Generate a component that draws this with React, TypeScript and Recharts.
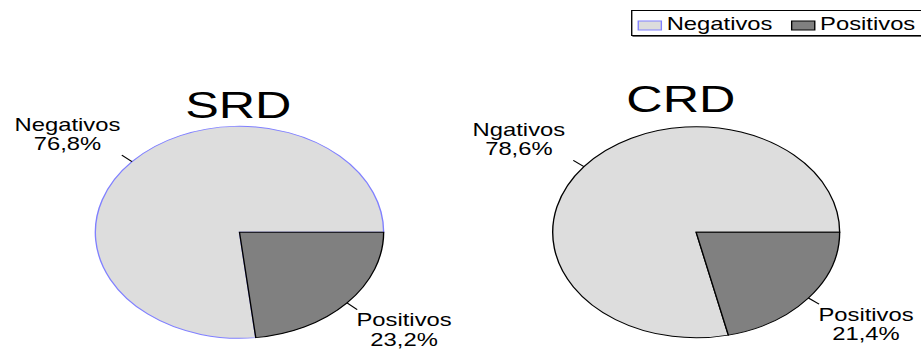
import React from "react";
import { PieChart, Pie, Cell } from "recharts";

// Shares per group (percent)
const categories = ["Negativos", "Positivos"];
const srdValues = [76.8, 23.2];
const crdValues = [78.6, 21.4];
const srdLabels = ["Negativos", "Positivos"];
const crdLabels = ["Ngativos", "Positivos"];
const titles = ["SRD", "CRD"];

const FILLS = ["#dddddd", "#808080"];
const SRD_STROKES = ["#8080ff", "#000000"];
const CRD_STROKES = ["#000000", "#000000"];

const FONT = "'Liberation Sans', Arial, Helvetica, sans-serif";
const STRETCH = 1.36;
const W = 678;
const H = 350;
const RAD = Math.PI / 180;

const srdData = categories.map((name, i) => ({ name, value: srdValues[i] }));
const crdData = categories.map((name, i) => ({ name, value: crdValues[i] }));

const fmt = (v: number) => v.toFixed(1).replace(".", ",") + "%";

function makeLabel(names: string[], values: number[]) {
  return (props: any) => {
    const { cx, cy, midAngle, outerRadius, index } = props;
    const cos = Math.cos(-midAngle * RAD);
    const sin = Math.sin(-midAngle * RAD);
    const sx = cx + outerRadius * cos;
    const sy = cy + outerRadius * sin;
    const ex = cx + (outerRadius + 10) * cos;
    const ey = cy + (outerRadius + 10) * sin;
    const left = cos < 0;
    const tx = left ? ex - 40 : ex + 34.5;
    const y1 = left ? ey - 24.5 : ey + 16.7;
    const y2 = y1 + 19.5;
    return (
      <g key={`lbl-${index}`}>
        <line x1={sx} y1={sy} x2={ex} y2={ey} stroke="#000" strokeWidth={1} />
        <text x={tx} y={y1} textAnchor="middle" fontSize={17.5} fontFamily={FONT} fill="#000">
          {names[index]}
        </text>
        <text x={tx} y={y2} textAnchor="middle" fontSize={17.5} fontFamily={FONT} fill="#000">
          {fmt(values[index])}
        </text>
      </g>
    );
  };
}

export default function App() {
  return (
    <div
      style={{
        position: "absolute",
        left: 0,
        top: 0,
        width: W,
        height: H,
        overflow: "hidden",
        transform: `scaleX(${STRETCH})`,
        transformOrigin: "0 0",
        background: "#fff",
      }}
    >
      <PieChart width={W} height={H} margin={{ top: 0, right: 0, bottom: 0, left: 0 }}>
        <Pie
          data={srdData}
          dataKey="value"
          nameKey="name"
          cx={176.1}
          cy={232.3}
          innerRadius={0}
          outerRadius={106}
          startAngle={-360}
          endAngle={0}
          label={makeLabel(srdLabels, srdValues)}
          labelLine={false}
          isAnimationActive={false}
        >
          {srdData.map((d, i) => (
            <Cell key={d.name} fill={FILLS[i]} stroke={SRD_STROKES[i]} strokeWidth={1} />
          ))}
        </Pie>
        <Pie
          data={crdData}
          dataKey="value"
          nameKey="name"
          cx={511.9}
          cy={232.3}
          innerRadius={0}
          outerRadius={105.5}
          startAngle={-360}
          endAngle={0}
          label={makeLabel(crdLabels, crdValues)}
          labelLine={false}
          isAnimationActive={false}
        >
          {crdData.map((d, i) => (
            <Cell key={d.name} fill={FILLS[i]} stroke={CRD_STROKES[i]} strokeWidth={1} />
          ))}
        </Pie>
      </PieChart>
      <svg
        width={W}
        height={H}
        style={{ position: "absolute", left: 0, top: 0, pointerEvents: "none" }}
      >
        <text x={175.2} y={118.3} textAnchor="middle" fontSize={37} fontFamily={FONT} fill="#000">
          {titles[0]}
        </text>
        <text x={500.6} y={111.7} textAnchor="middle" fontSize={37} fontFamily={FONT} fill="#000">
          {titles[1]}
        </text>
        {/* legend */}
        <line x1={465} y1={36.5} x2={W} y2={36.5} stroke="#666" strokeWidth={1.2} />
        <rect x={464.5} y={10.5} width={220} height={25} fill="#fff" stroke="#000" strokeWidth={1} />
        <rect x={469.3} y={21} width={17} height={9} fill={FILLS[0]} stroke={SRD_STROKES[0]} strokeWidth={1} />
        <text x={490.2} y={30} fontSize={17.5} fontFamily={FONT} fill="#000">
          {categories[0]}
        </text>
        <rect x={582.1} y={21} width={17} height={9} fill={FILLS[1]} stroke="#000" strokeWidth={1} />
        <text x={603} y={30} fontSize={17.5} fontFamily={FONT} fill="#000">
          {categories[1]}
        </text>
      </svg>
    </div>
  );
}
